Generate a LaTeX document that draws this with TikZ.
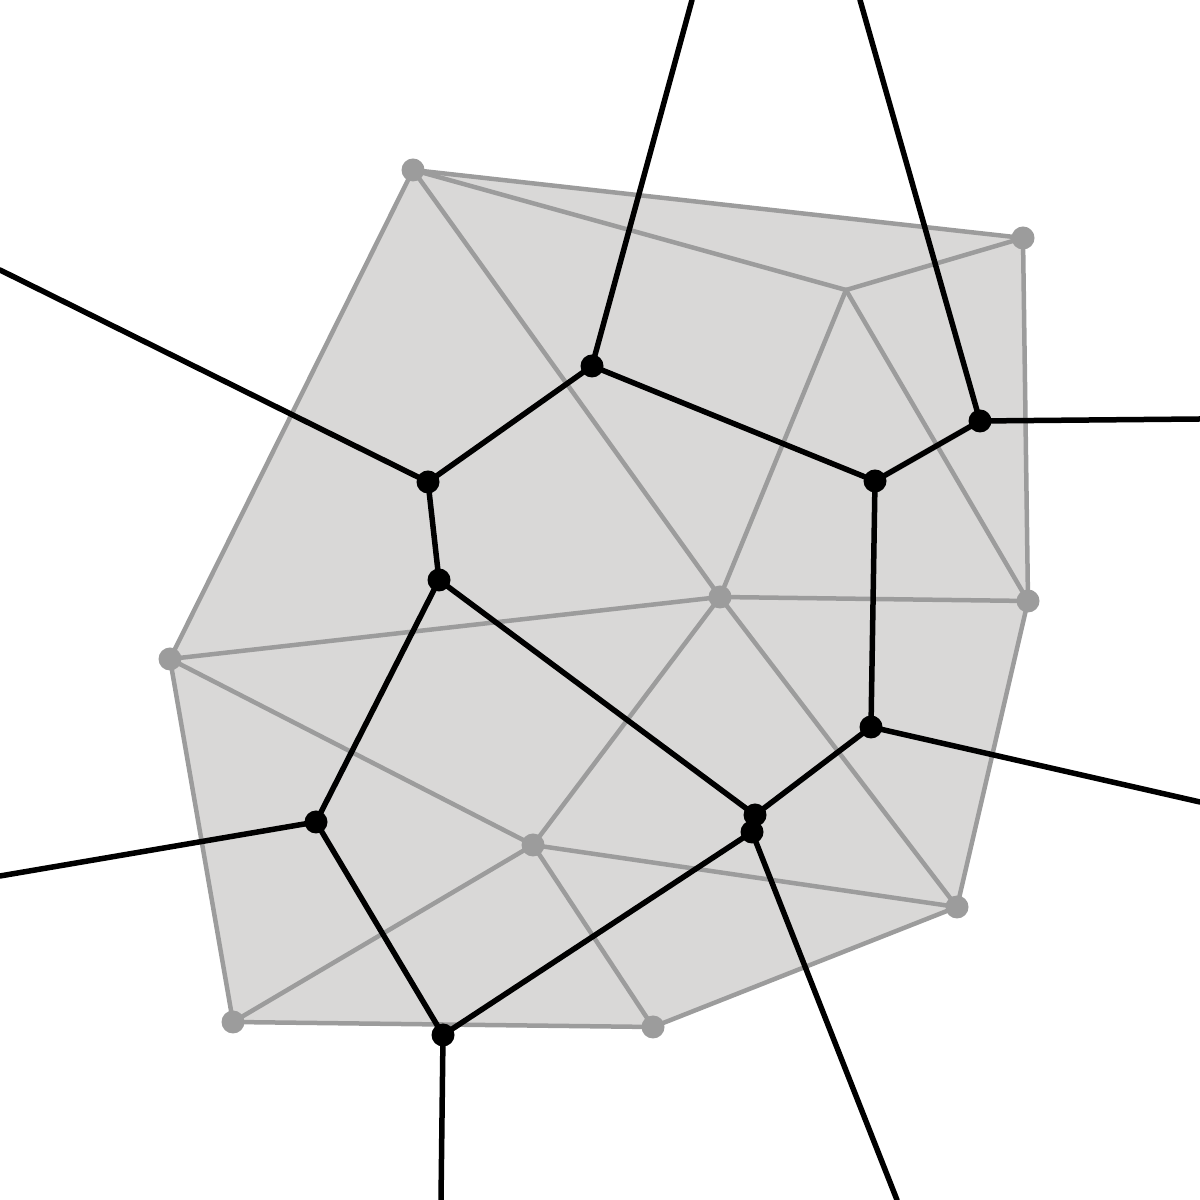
\documentclass[tikz,border=0pt]{standalone}
\definecolor{hullfill}{HTML}{D9D8D7}
\definecolor{delgray}{HTML}{9C9C9C}
\begin{document}
\begin{tikzpicture}[line join=round,line cap=round,
  delaunay/.style={delgray,line width=4.5bp},
  voronoi/.style={black,line width=5.5bp}]
\useasboundingbox (0bp,0bp) rectangle (1200bp,1200bp);
%% sites
\coordinate (site_1) at (413bp,1030bp);
\coordinate (site_2) at (1023bp,962bp);
\coordinate (site_3) at (846bp,910bp);
\coordinate (site_4) at (720bp,603bp);
\coordinate (site_5) at (1028bp,599bp);
\coordinate (site_6) at (170bp,541bp);
\coordinate (site_7) at (533bp,355bp);
\coordinate (site_8) at (957bp,293bp);
\coordinate (site_9) at (233bp,178bp);
\coordinate (site_10) at (653bp,173bp);
%% voronoi vertices
\coordinate (vert_1) at (592bp,834bp);
\coordinate (vert_2) at (980bp,779bp);
\coordinate (vert_3) at (875bp,719bp);
\coordinate (vert_4) at (428bp,718bp);
\coordinate (vert_5) at (439bp,620bp);
\coordinate (vert_6) at (871bp,473bp);
\coordinate (vert_7) at (755bp,385bp);
\coordinate (vert_8) at (752bp,368bp);
\coordinate (vert_9) at (316bp,378bp);
\coordinate (vert_10) at (443bp,165bp);
%% open ends
\coordinate (end_1) at (692bp,1200bp);
\coordinate (end_2) at (860bp,1200bp);
\coordinate (end_3) at (1200bp,781bp);
\coordinate (end_4) at (0bp,930bp);
\coordinate (end_5) at (1200bp,398bp);
\coordinate (end_6) at (897bp,0bp);
\coordinate (end_7) at (0bp,324bp);
\coordinate (end_8) at (441bp,0bp);
%
\fill [hullfill] (site_1) -- (site_2) -- (site_5) -- (site_8) -- (site_10) -- (site_9) -- (site_6) -- cycle;
\foreach \a/\b in {1/2,1/3,1/4,1/6,2/3,2/5,3/4,3/5,4/5,4/6,4/7,4/8,5/8,6/7,6/9,7/9,7/10,7/8,9/10,10/8}
  \draw [delaunay] (site_\a) -- (site_\b);
\foreach \a/\b in {1/4,1/3,3/2,4/5,5/9,5/7,3/6,6/7,7/8,8/10,9/10}
  \draw [voronoi] (vert_\a) -- (vert_\b);
\foreach \a/\b in {1/1,2/2,2/3,4/4,6/5,8/6,9/7,10/8}
  \draw [voronoi] (vert_\a) -- (end_\b);
\foreach \s in {1,2,4,5,6,7,8,9,10}
  \fill [delgray] (site_\s) circle (11.5bp);
\foreach \v in {1,...,10}
  \fill [black] (vert_\v) circle (11.5bp);
%
\end{tikzpicture}
\end{document}
